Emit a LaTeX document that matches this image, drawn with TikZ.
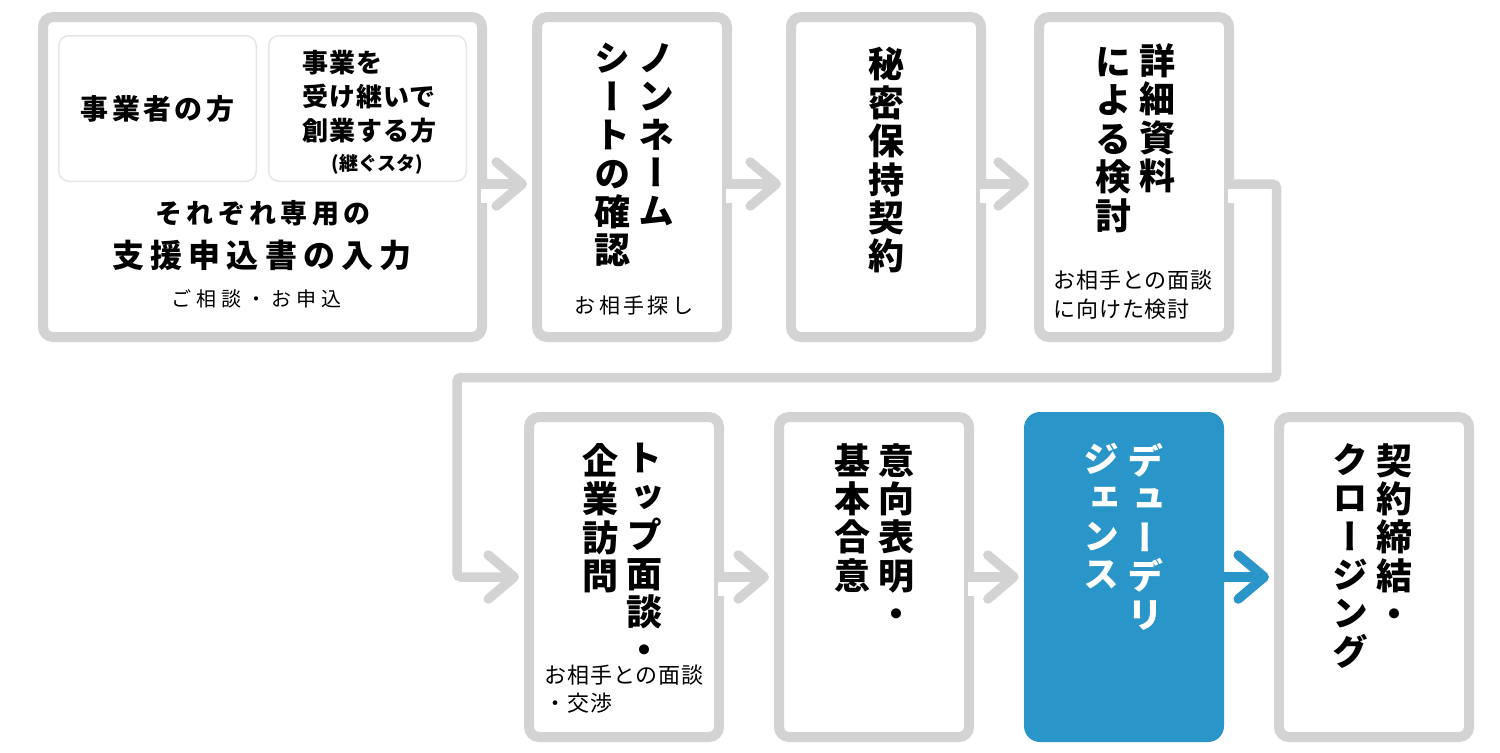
\documentclass[tikz,border=0pt]{standalone}
\usepackage{fontspec}
\setmainfont{Noto Sans CJK JP}
\newfontfamily\tatefont{Noto Sans CJK JP}[RawFeature=+vert]
\usetikzlibrary{arrows.meta,calc}
\definecolor{flowgray}{HTML}{D3D3D3}
\definecolor{ddblue}{HTML}{2A95C8}
\definecolor{subline}{HTML}{E6E6E6}
\newcommand\trk[1]{\addfontfeatures{LetterSpace=#1}}
\tikzset{
  stepbox/.style={draw=flowgray, line width=5pt, rounded corners=5pt, minimum width=95pt, minimum height=160pt, inner sep=0pt},
  ddbox/.style={fill=ddblue, rounded corners=8pt, minimum width=100pt, minimum height=165pt, inner sep=0pt},
  subbox/.style={draw=subline, line width=0.75pt, rounded corners=5pt, minimum width=98.75pt, minimum height=72.75pt, inner sep=0pt},
  title/.style={font=\tatefont\bfseries\fontsize{18pt}{19.2pt}\selectfont, align=center, anchor=north, inner sep=0pt},
  note/.style={font=\fontsize{11pt}{14.5pt}\selectfont\trk{4}, align=left, inner sep=0pt},
  flowline/.style={draw=flowgray, line width=4.75pt, -{Straight Barb[length=13pt,width=22pt,round]}, shorten >=2.5pt},
}

\begin{document}
\begin{tikzpicture}[x=0.5pt, y=-0.5pt]
	\path[use as bounding box, fill=white] (0,0) rectangle (1500,752);

	% steps, upper row
	\node[stepbox, minimum width=219.5pt] (b1) at (262.5,177) {};
	\node[stepbox] (b2) at (632,177) {};
	\node[stepbox] (b3) at (886,177) {};
	\node[stepbox] (b4) at (1134,177) {};
	% steps, lower row
	\node[stepbox] (b5) at (624,577) {};
	\node[stepbox] (b6) at (874,577) {};
	\node[ddbox] (b7) at (1124,577) {};
	\node[stepbox] (b8) at (1374,577) {};

	\node[subbox] (subA) at (157.5,108.5) {};
	\node[subbox] (subB) at (367.5,108.5) {};

	\coordinate (rowA) at (0,184);
	\coordinate (rowB) at (0,577);
	\coordinate (loopR) at (1276.5,377.5);
	\coordinate (loopL) at (457,377.5);

	% openings where the flow leaves a box
	\foreach \b in {b1,b2,b3,b4}
		\fill[white] ($(\b.east |- rowA)+(-6,4.5)$) rectangle ($(\b.east |- rowA)+(6,19)$);
	\foreach \b in {b5,b6}
		\fill[white] ($(\b.east |- rowB)+(-6,4.5)$) rectangle ($(\b.east |- rowB)+(6,19)$);

	\draw[flowline] (b1.east |- rowA) -- (b2.west |- rowA);
	\draw[flowline] (b2.east |- rowA) -- (b3.west |- rowA);
	\draw[flowline] (b3.east |- rowA) -- (b4.west |- rowA);
	\draw[flowline, rounded corners=2pt] (b4.east |- rowA) -| (loopR) -- (loopL) |- (b5.west |- rowB);
	\draw[flowline] (b5.east |- rowB) -- (b6.west |- rowB);
	\draw[flowline] (b6.east |- rowB) -- (b7.west |- rowB);
	\draw[flowline, draw=ddblue] (b7.east |- rowB) -- (b8.west |- rowB);

	% texts of the first box
	\node[font=\bfseries\fontsize{14pt}{16pt}\selectfont\trk{12}] at (subA) {事業者の方};
	\node[font=\bfseries\fontsize{13pt}{17pt}\selectfont\trk{4}, align=left, anchor=west, inner sep=0pt] at (302,97) {事業を\\受け継いで\\創業する方};
	\node[font=\bfseries\fontsize{9.5pt}{12pt}\selectfont, inner sep=0pt] at (377,164) {(継ぐスタ)};
	\node[font=\bfseries\fontsize{13.5pt}{16pt}\selectfont\trk{16}, inner sep=0pt] at (263,213) {それぞれ専用の};
	\node[font=\bfseries\fontsize{16pt}{18pt}\selectfont\trk{19}, inner sep=0pt] at (262,255) {支援申込書の入力};
	\node[font=\fontsize{10pt}{12pt}\selectfont\trk{25}, inner sep=0pt] at (256,299) {ご相談・お申込};

	% vertical titles
	\node[title] at (656,43) {ノ\\ン\\ネ\\ー\\ム};
	\node[title] at (612,43) {シ\\ー\\ト\\の\\確\\認};
	\node[note, font=\fontsize{10.5pt}{14.5pt}\selectfont\trk{16}] at (634,306) {お相手探し};

	\node[title] at (886,47) {秘\\密\\保\\持\\契\\約};

	\node[title] at (1157,43) {詳\\細\\資\\料};
	\node[title] at (1113,47) {に\\よ\\る\\検\\討};
	\node[note, anchor=north west] at (1053,270) {お相手との面談\\に向けた検討};

	\node[title] at (644,443) {ト\\ッ\\プ\\面\\談\\・};
	\node[title] at (600,443) {企\\業\\訪\\問};
	\node[note, anchor=north west, font=\fontsize{11pt}{14pt}\selectfont\trk{4}] at (544,665) {お相手との面談\\・交渉};

	\node[title] at (896,443) {意\\向\\表\\明\\・};
	\node[title] at (852,443) {基\\本\\合\\意};

	\node[title, text=white] at (1145,443) {デ\\ュ\\ー\\デ\\リ};
	\node[title, text=white] at (1101,443) {ジ\\ェ\\ン\\ス};

	\node[title] at (1394,443) {契\\約\\締\\結\\・};
	\node[title] at (1350,443) {ク\\ロ\\ー\\ジ\\ン\\グ};
\end{tikzpicture}
\end{document}
